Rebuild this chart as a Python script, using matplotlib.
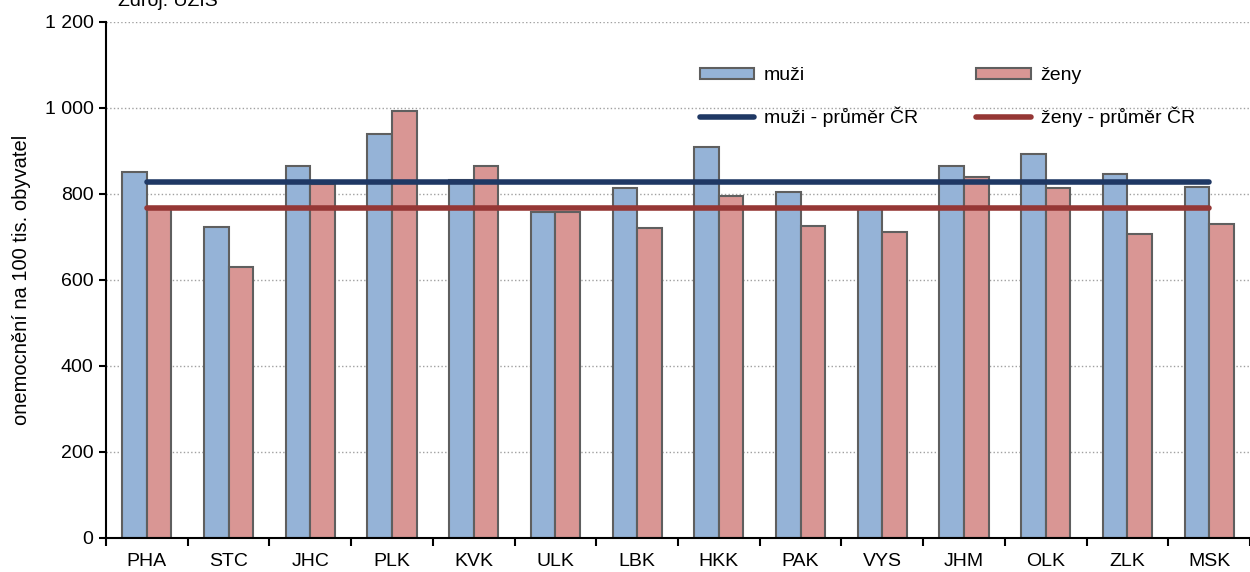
import matplotlib.pyplot as plt
import numpy as np

plt.rcParams['font.family'] = ['Liberation Sans', 'DejaVu Sans']

regions = ['PHA', 'STC', 'JHC', 'PLK', 'KVK', 'ULK', 'LBK', 'HKK',
           'PAK', 'VYS', 'JHM', 'OLK', 'ZLK', 'MSK']
muzi = [851, 723, 865, 940, 832, 757, 814, 910, 805, 765, 865, 893, 846, 817]
zeny = [768, 630, 823, 994, 864, 757, 721, 795, 725, 712, 840, 814, 707, 730]
muzi_avg = 828
zeny_avg = 767

x = np.arange(len(regions))
w = 0.3

fig = plt.figure(figsize=(12.5, 5.72), dpi=100)
ax = fig.add_axes([106 / 1250, 34 / 572, 1144 / 1250, 516 / 572])

b1 = ax.bar(x - w / 2, muzi, w, color='#95b3d7', edgecolor='#5f5f5f', linewidth=1.5,
            label='muži', zorder=2)
b2 = ax.bar(x + w / 2, zeny, w, color='#d99694', edgecolor='#5f5f5f', linewidth=1.5,
            label='ženy', zorder=2)
l1, = ax.plot([x[0], x[-1]], [muzi_avg, muzi_avg], color='#1f3864', lw=4,
              solid_capstyle='round', label='muži - průměr ČR', zorder=3)
l2, = ax.plot([x[0], x[-1]], [zeny_avg, zeny_avg], color='#953735', lw=4,
              solid_capstyle='round', label='ženy - průměr ČR', zorder=3)

ax.set_xlim(-0.5, len(regions) - 0.5)
ax.set_ylim(0, 1200)
ax.set_yticks(range(0, 1201, 200))
ax.set_yticklabels(['0', '200', '400', '600', '800', '1 000', '1 200'])
ax.set_xticks(x)
ax.set_xticklabels(regions)
ax.set_xticks(np.arange(-0.5, len(regions), 1), minor=True)
ax.tick_params(axis='x', which='major', length=0, pad=11, labelsize=14)
ax.tick_params(axis='x', which='minor', length=6, width=1.5, direction='out')
ax.tick_params(axis='y', length=5, width=1.5, direction='out', labelsize=14, pad=4)
ax.yaxis.grid(True, linestyle=':', color='#a0a0a0', lw=1, zorder=0)
for s in ['top', 'right']:
    ax.spines[s].set_visible(False)
for s in ['left', 'bottom']:
    ax.spines[s].set_linewidth(1.5)
ax.set_ylabel('onemocnění na 100 tis. obyvatel', fontsize=14.5, labelpad=10)

ax.legend([b1, l1, b2, l2],
          ['muži', 'muži - průměr ČR', 'ženy', 'ženy - průměr ČR'],
          loc='upper left', bbox_to_anchor=(0.519, 0.912), ncol=2, frameon=False,
          fontsize=14, handlelength=2.8, columnspacing=3.0, handletextpad=0.5,
          labelspacing=1.15, borderpad=0, borderaxespad=0, handleheight=0.55)

fig.text(118 / 1250, 1.0, 'Zdroj: ÚZIS', fontsize=14, va='center', ha='left')

fig.savefig('out.png')
